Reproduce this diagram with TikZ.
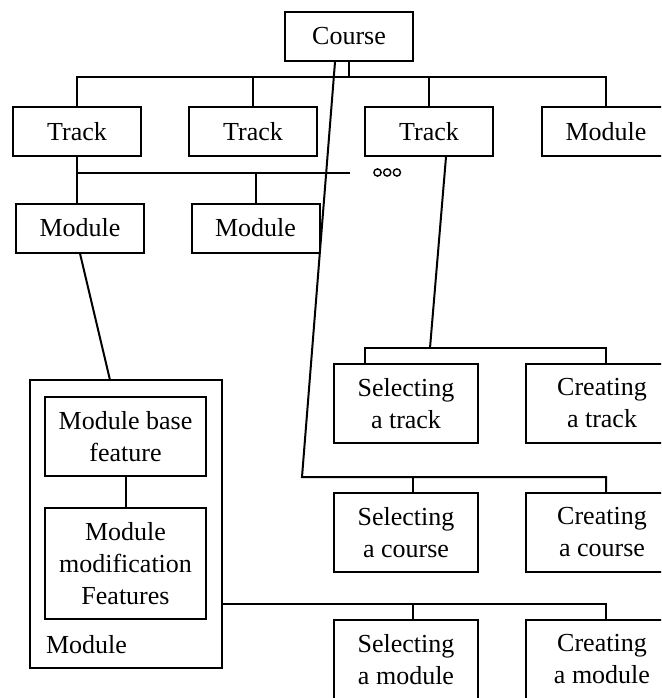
\documentclass[tikz,border=0pt]{standalone}
\usepackage{fontspec}
\setmainfont{Liberation Serif}

\begin{document}
\begin{tikzpicture}[
                        x=1pt,
                        y=-1pt,
                        line width=2pt,
                        font=\fontsize{26}{32}\selectfont
                    ]
                    \tikzstyle{box}=[draw,rectangle,align=center,inner sep=0pt,minimum width=128,minimum height=49]
                    \tikzstyle{task}=[box,minimum width=144,minimum height=79]
                    \tikzstyle{newtask}=[task,minimum width=152]

                    \clip (0,0) rectangle (661,698);

                    % upper tree
                    \node[box] (course)    at (349,36.5)  {Course};
                    \node[box] (track1)    at (77,131.5)  {Track};
                    \node[box] (track2)    at (253,131.5) {Track};
                    \node[box] (track3)    at (429,131.5) {Track};
                    \node[box] (moduletop) at (606,131.5) {Module};
                    \node[box] (module1)   at (80,228)    {Module};
                    \node[box] (module2)   at (255.5,228) {Module};

                    % module in detail
                    \node[box,minimum width=192,minimum height=288] (modcont) at (126,524) {};
                    \node[box,minimum width=161,minimum height=79]  (basefeat) at (125.5,436.5) {Module base\\feature};
                    \node[box,minimum width=161,minimum height=111] (modfeat)  at (125.5,563.5) {Module\\modification\\Features};
                    \node[anchor=west,inner sep=0pt] (modlabel) at (45,645) {Module};

                    % operations
                    \node[task]    (seltrack)   at (406,403.5) {Selecting\\a track};
                    \node[newtask] (newtrack)   at (602,403.5) {Creating\\a track};
                    \node[task]    (selcourse)  at (406,532.5) {Selecting\\a course};
                    \node[newtask] (newcourse)  at (602,532.5) {Creating\\a course};
                    \node[task]    (selmodule)  at (406,659.5) {Selecting\\a module};
                    \node[newtask] (newmodule)  at (602,659.5) {Creating\\a module};

                    \coordinate (bus1)    at (349,77);
                    \coordinate (bus2)    at (77,173);
                    \coordinate (bus2end) at (350,173);
                    \coordinate (modin)   at (110,380);
                    \coordinate (bus3)    at (430,348);
                    \coordinate (bus4)    at (302,477);
                    \coordinate (bus5)    at (413,604);

                    \draw (course.south) -- (bus1);
                    \draw (track1.north) |- (bus1) -| (moduletop.north);
                    \draw (track2.north) -- (track2.north |- bus1);
                    \draw (track3.north) -- (track3.north |- bus1);

                    \draw (track1.south) -- (bus2) -- (bus2end);
                    \draw (bus2) -- (bus2 |- module1.north);
                    \draw (module2.north) -- (module2.north |- bus2);
                    \foreach \i in {0,1,2}
                        \draw[line width=1.4pt] (377.5+9.7*\i,172.5) circle (3.6);

                    \draw (module1.south) -- (modin);
                    \draw (basefeat) -- (modfeat);

                    \draw ([xshift=17pt]track3.south) -- (bus3);
                    \draw ([xshift=-41pt]seltrack.north) |- (bus3) -| ([xshift=4pt]newtrack.north);

                    \draw ([xshift=-14pt]course.south) -- (bus4) -| ([xshift=4pt]newcourse.north);
                    \draw ([xshift=7pt]selcourse.north) -- ([xshift=7pt]selcourse.north |- bus4);

                    \draw ([yshift=-80pt]modcont.east) -| ([xshift=4pt]newmodule.north);
                    \draw ([xshift=7pt]selmodule.north) -- (bus5);
                \end{tikzpicture}
\end{document}
